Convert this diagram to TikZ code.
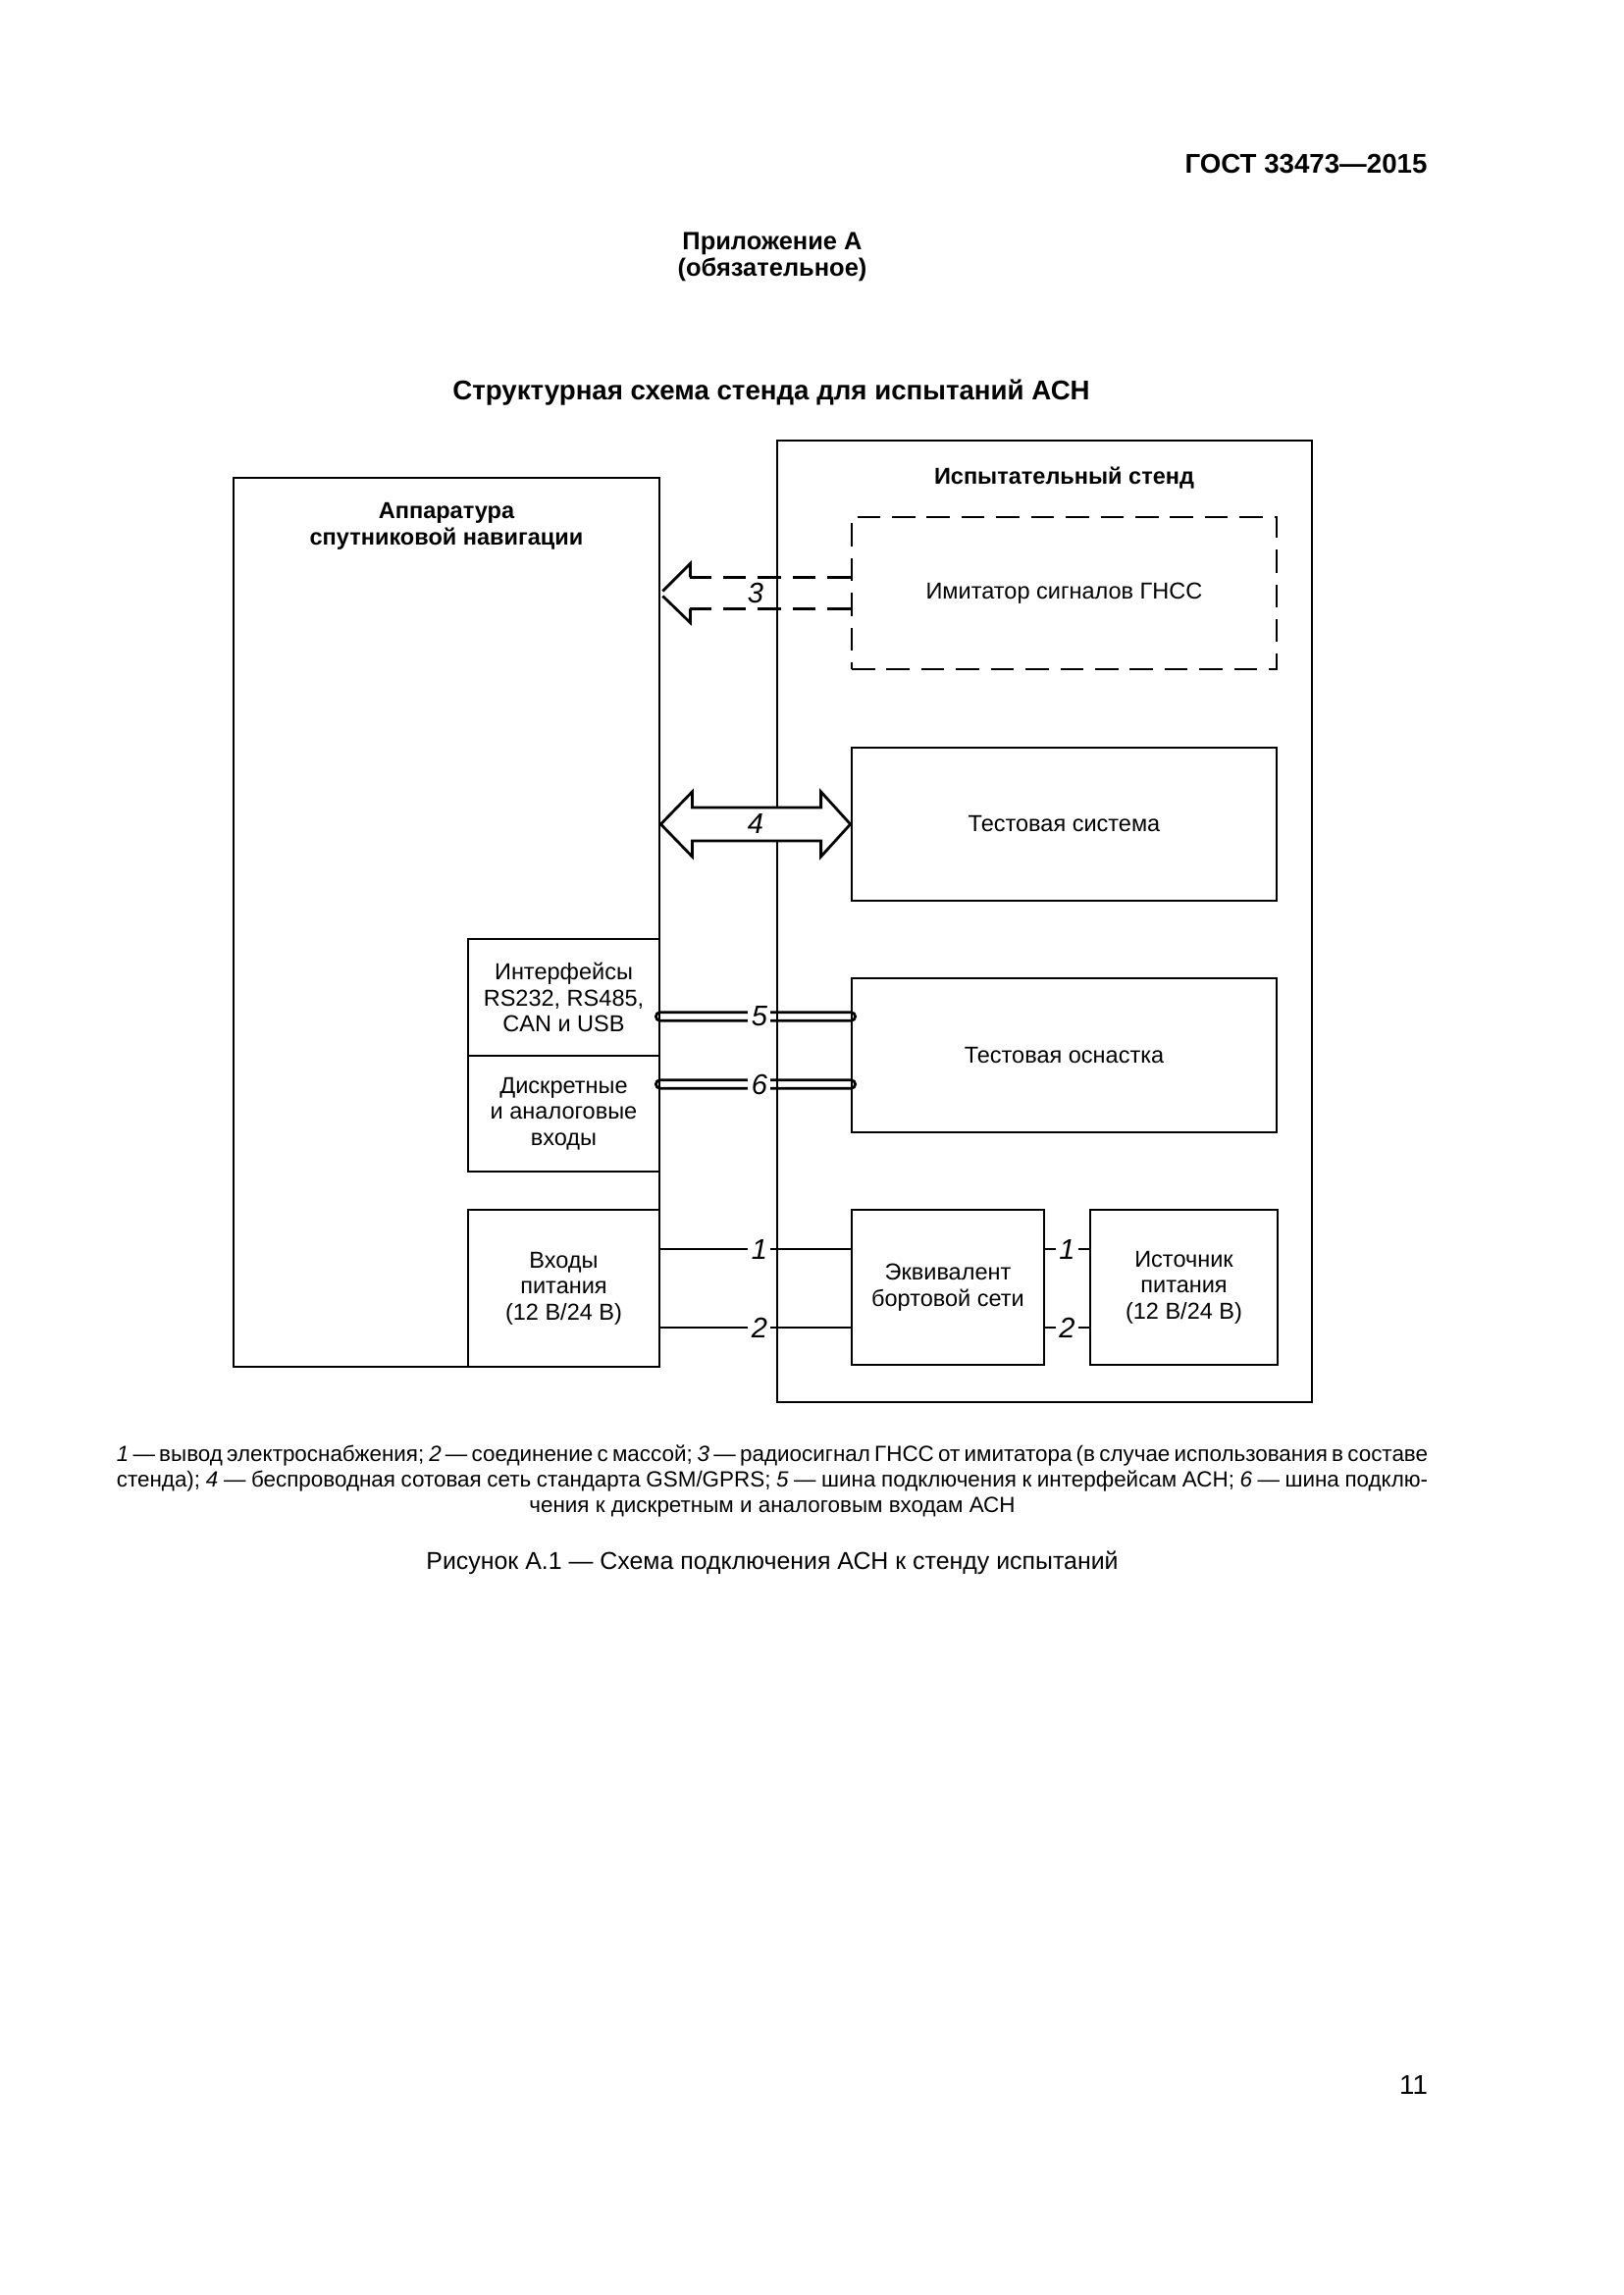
\documentclass[tikz,border=0pt]{standalone}
\usepackage{fontspec}
\setmainfont{Liberation Sans}
\usetikzlibrary{calc}
\def\px{0.127mm}
\begin{document}
\begin{tikzpicture}[x=0.127mm,y=-0.127mm,
  box/.style={draw, line width=1pt, align=center, inner sep=0pt, font=\fontsize{8.5}{9.6}\selectfont},
  lbl/.style={align=center, inner sep=0pt, font=\bfseries\fontsize{8.5}{9.7}\selectfont},
  num/.style={inner sep=1.2pt, font=\fontsize{10.5}{12}\selectfont\itshape},
  conn/.style={line width=1pt},
  dsh/.style={line width=1pt, dash pattern=on 8.5pt off 4.3pt},
  plain/.style={inner sep=0pt, align=center},
  legfont/.style={font=\fontsize{8.1}{9.5}\selectfont}]
\useasboundingbox (0,0) rectangle (1654,2339);

% page texts
\node[plain, anchor=east, font=\bfseries\fontsize{10}{12}\selectfont] (hdr) at (1455,167) {ГОСТ 33473—2015};
\node[plain, font=\bfseries\fontsize{9.2}{9.8}\selectfont] (annex) at (787,261.5) {Приложение А\\(обязательное)};
\node[plain, font=\bfseries\fontsize{10}{12}\selectfont] (title) at (786,400) {Структурная схема стенда для испытаний АСН};

% main boxes
\node[box, minimum width=434*\px, minimum height=906*\px] (A) at (455,940) {};
\node[lbl] (Alab) at (455,536.5) {Аппаратура\\спутниковой навигации};
\node[box, minimum width=545*\px, minimum height=980*\px] (S) at (1064.5,939) {};
\node[lbl] (Slab) at (1084.5,487) {Испытательный стенд};

\node[box, dsh, minimum width=433*\px, minimum height=155*\px] (imit) at (1084.5,604.5) {Имитатор сигналов ГНСС};
\node[box, minimum width=433*\px, minimum height=156*\px] (tsys) at (1084.5,840) {Тестовая система};
\node[box, minimum width=433*\px, minimum height=157*\px] (osn) at (1084.5,1075.5) {Тестовая оснастка};
\node[box, minimum width=196*\px, minimum height=158*\px] (ekv) at (966,1312) {Эквивалент\\бортовой сети};
\node[box, minimum width=191*\px, minimum height=158*\px] (ist) at (1206.5,1312) {Источник\\питания\\(12 В/24 В)};

\node[box, minimum width=195*\px, minimum height=119*\px] (intf) at (574.5,1016.5) {Интерфейсы\\RS232, RS485,\\CAN и USB};
\node[box, minimum width=195*\px, minimum height=118*\px] (disc) at (574.5,1135) {Дискретные\\и аналоговые\\входы};
\node[box, minimum width=195*\px, minimum height=160*\px] (inp) at (574.5,1313) {Входы\\питания\\(12 В/24 В)};

% helper coordinates
\coordinate (y1) at (0,1273);
\coordinate (y2) at (0,1353);
\coordinate (y5) at (0,1036);
\coordinate (y6) at (0,1105);
\coordinate (T3) at (A.east |- imit.west);
\coordinate (T4) at (A.east |- tsys.west);

% arrow 3 (dashed hollow)
\draw[dsh] ($(imit.west)+(0,-16)$) -- ($(T3)+(30,-16)$);
\draw[dsh] ($(imit.west)+(0,16)$) -- ($(T3)+(30,16)$);
\draw[conn] ($(T3)+(30,-16)$) -- ($(T3)+(30,-30)$) -- ($(T3)+(2,-2)$);
\draw[conn] ($(T3)+(2,3)$) -- ($(T3)+(30,30)$) -- ($(T3)+(30,16)$);
\node[num] (n3) at ($(T3)!0.5!(imit.west)$) {3};

% arrow 4 (double hollow, filled)
\draw[conn, fill=white] (T4) -- ($(T4)+(32,-33)$) -- ($(T4)+(32,-17)$) -- ($(tsys.west)+(-30,-17)$)
  -- ($(tsys.west)+(-30,-33)$) -- (tsys.west) -- ($(tsys.west)+(-30,33)$) -- ($(tsys.west)+(-30,17)$)
  -- ($(T4)+(32,17)$) -- ($(T4)+(32,33)$) -- cycle;
\node[num] (n4) at ($(T4)!0.5!(tsys.west)$) {4};

% buses 5 and 6
\draw[conn, rounded corners=0.53mm] ($(intf.east |- y5)+(-5,-4.2)$) rectangle ($(osn.west |- y5)+(5,4.2)$);
\node[num, fill=white] (n5) at ($(intf.east |- y5)!0.52!(osn.west |- y5)$) {5};
\draw[conn, rounded corners=0.53mm] ($(disc.east |- y6)+(-5,-4.2)$) rectangle ($(osn.west |- y6)+(5,4.2)$);
\node[num, fill=white] (n6) at ($(disc.east |- y6)!0.52!(osn.west |- y6)$) {6};

% power lines
\draw[conn] (inp.east |- y1) -- (ekv.west |- y1) node[num, fill=white, pos=0.52] (n1a) {1};
\draw[conn] (inp.east |- y2) -- (ekv.west |- y2) node[num, fill=white, pos=0.52] (n2a) {2};
\draw[conn] (ekv.east |- y1) -- (ist.west |- y1) node[num, fill=white, midway] (n1b) {1};
\draw[conn] (ekv.east |- y2) -- (ist.west |- y2) node[num, fill=white, midway] (n2b) {2};

% legend
\node[plain, legfont] (leg1) at (787,1484) {\hbox to 169.7mm{\strut\textit{1} — вывод электроснабжения; \textit{2} — соединение с массой; \textit{3} — радиосигнал ГНСС от имитатора (в случае использования в составе}};
\node[plain, legfont] (leg2) at (787,1510) {\hbox to 169.7mm{\strut стенда); \textit{4} — беспроводная сотовая сеть стандарта GSM/GPRS; \textit{5} — шина подключения к интерфейсам АСН; \textit{6} — шина подклю-}};
\node[plain, legfont] (leg3) at (787,1536) {\strut чения к дискретным и аналоговым входам АСН};

\node[plain, font=\fontsize{9}{11}\selectfont] (cap) at (787,1593) {Рисунок А.1 — Схема подключения АСН к стенду испытаний};
\node[plain, font=\fontsize{10}{12}\selectfont] (page) at (1440.5,2125) {11};
\end{tikzpicture}
\end{document}
